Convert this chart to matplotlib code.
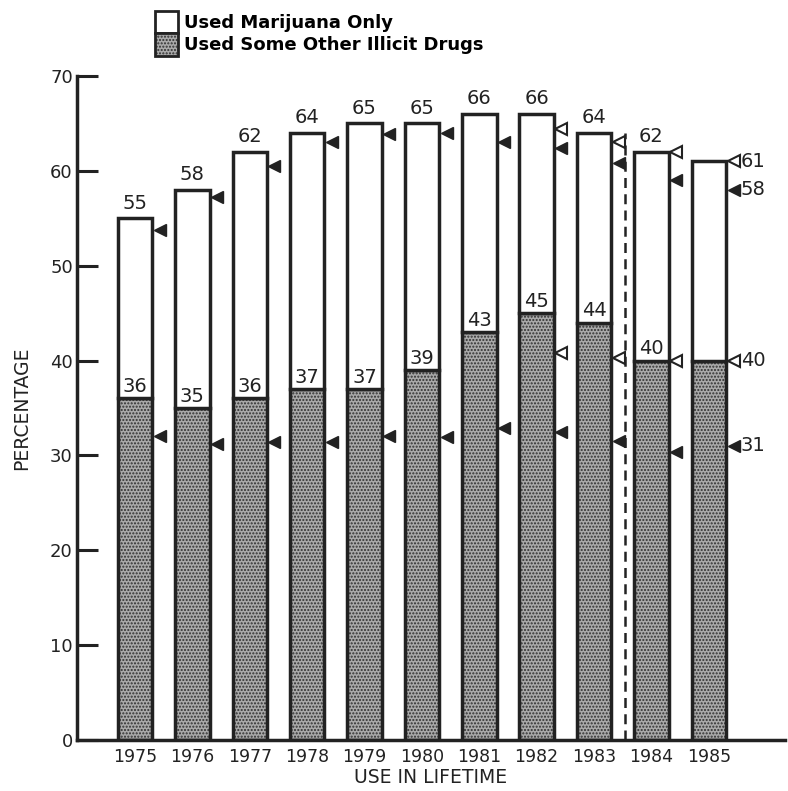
import numpy as np
import matplotlib.pyplot as plt
from matplotlib.patches import Patch

# ---------------------------------------------------------------------------
# Data
# ---------------------------------------------------------------------------
years = ['1975', '1976', '1977', '1978', '1979', '1980', '1981', '1982',
         '1983', '1984', '1985']
other_drugs = [36, 35, 36, 37, 37, 39, 43, 45, 44, 40, 40]
any_drug = [55, 58, 62, 64, 65, 65, 66, 66, 64, 62, 61]
# side markers (filled and open triangles)
filled_upper = [53.8, 57.2, 60.5, 63.0, 63.9, 64.0, 63.0, 62.4, 60.8, 59.0,
                58.0]
filled_lower = [32.0, 31.2, 31.4, 31.4, 32.0, 31.9, 32.9, 32.5, 31.5, 30.4,
                31.0]
open_upper = [np.nan] * 7 + [64.4, 63.0, 62.0, 61.0]
open_lower = [np.nan] * 7 + [40.8, 40.3, 40.0, 40.0]

marijuana_only = [a - o for a, o in zip(any_drug, other_drugs)]

# ---------------------------------------------------------------------------
fs = 13
ink = '#222222'
plt.rcParams['font.family'] = ['DejaVu Sans']
fig = plt.figure(figsize=(7.88, 7.91), dpi=100)
ax = fig.add_axes([0.0977, 0.0645, 0.898, 0.8395])

x = np.arange(len(years))
w = 0.6
gray = '#a9a9a9'
hatch = '.....'

# hatched lower part (no outline), then outlines on top
ax.bar(x, other_drugs, w, color=gray, hatch=hatch, edgecolor='#303030',
       lw=0, zorder=2)
ax.bar(x, other_drugs, w, fill=False, edgecolor=ink, lw=2.5, zorder=3)
ax.bar(x, marijuana_only, w, bottom=other_drugs, color='white',
       edgecolor=ink, lw=2.5, zorder=3)

# markers
mx = x + w / 2 + 0.13
ax.plot(mx, filled_upper, '<', color=ink, ms=8, ls='none',
        clip_on=False, zorder=4)
ax.plot(mx, filled_lower, '<', color=ink, ms=8, ls='none',
        clip_on=False, zorder=4)
ax.plot(mx, open_upper, '<', mfc='white', mec=ink, mew=1.5, ms=8,
        ls='none', clip_on=False, zorder=4)
ax.plot(mx, open_lower, '<', mfc='white', mec=ink, mew=1.5, ms=8,
        ls='none', clip_on=False, zorder=4)

# value labels on bars (last year labelled at the side)
for i in range(len(years) - 1):
    ax.text(x[i], any_drug[i] + 0.6, str(any_drug[i]), ha='center',
            va='bottom', fontsize=fs + 1, color=ink)
    ax.text(x[i], other_drugs[i] + 0.25, str(other_drugs[i]), ha='center',
            va='bottom', fontsize=fs + 1, color=ink, zorder=5)
last = len(years) - 1
for v in [open_upper[last], filled_upper[last], open_lower[last],
          filled_lower[last]]:
    ax.text(mx[last] + 0.13, v, str(int(round(v))), ha='left', va='center',
            fontsize=fs + 1, color=ink)

# dashed divider between 1983 and 1984
ax.plot([8.54, 8.54], [0, 64], ls=(0, (4, 2.5)), color=ink, lw=1.8,
        zorder=1)

# axes styling
ax.set_xlim(-1.01, 11.32)
ax.set_ylim(0, 70)
ax.set_xticks(x)
ax.set_xticklabels(years, fontsize=fs - 0.5)
ax.tick_params(axis='x', length=0, pad=6, colors=ink)
ax.set_yticks(np.arange(0, 71, 10))
ax.tick_params(axis='y', direction='in', length=15, width=2.2,
               labelsize=fs, pad=3, colors=ink)
for s in ['top', 'right']:
    ax.spines[s].set_visible(False)
for s in ['left', 'bottom']:
    ax.spines[s].set_linewidth(2.5)
    ax.spines[s].set_color(ink)
ax.set_ylabel('PERCENTAGE', fontsize=fs + 0.5, labelpad=14, color=ink)
ax.set_xlabel('USE IN LIFETIME', fontsize=fs + 0.5, labelpad=1, color=ink)

# legend
h1 = Patch(facecolor='white', edgecolor=ink, lw=2)
h2 = (Patch(facecolor=gray, hatch=hatch, edgecolor='#303030', lw=0),
      Patch(fill=False, edgecolor=ink, lw=2))
ax.legend([h1, h2], ['Used Marijuana Only', 'Used Some Other Illicit Drugs'],
          loc='upper left', bbox_to_anchor=(0.098, 1.112), frameon=False,
          handlelength=1.25, handleheight=1.55, labelspacing=0,
          handletextpad=0.35, borderpad=0,
          prop={'weight': 'bold', 'size': fs})

fig.savefig('out.png', dpi=100)
